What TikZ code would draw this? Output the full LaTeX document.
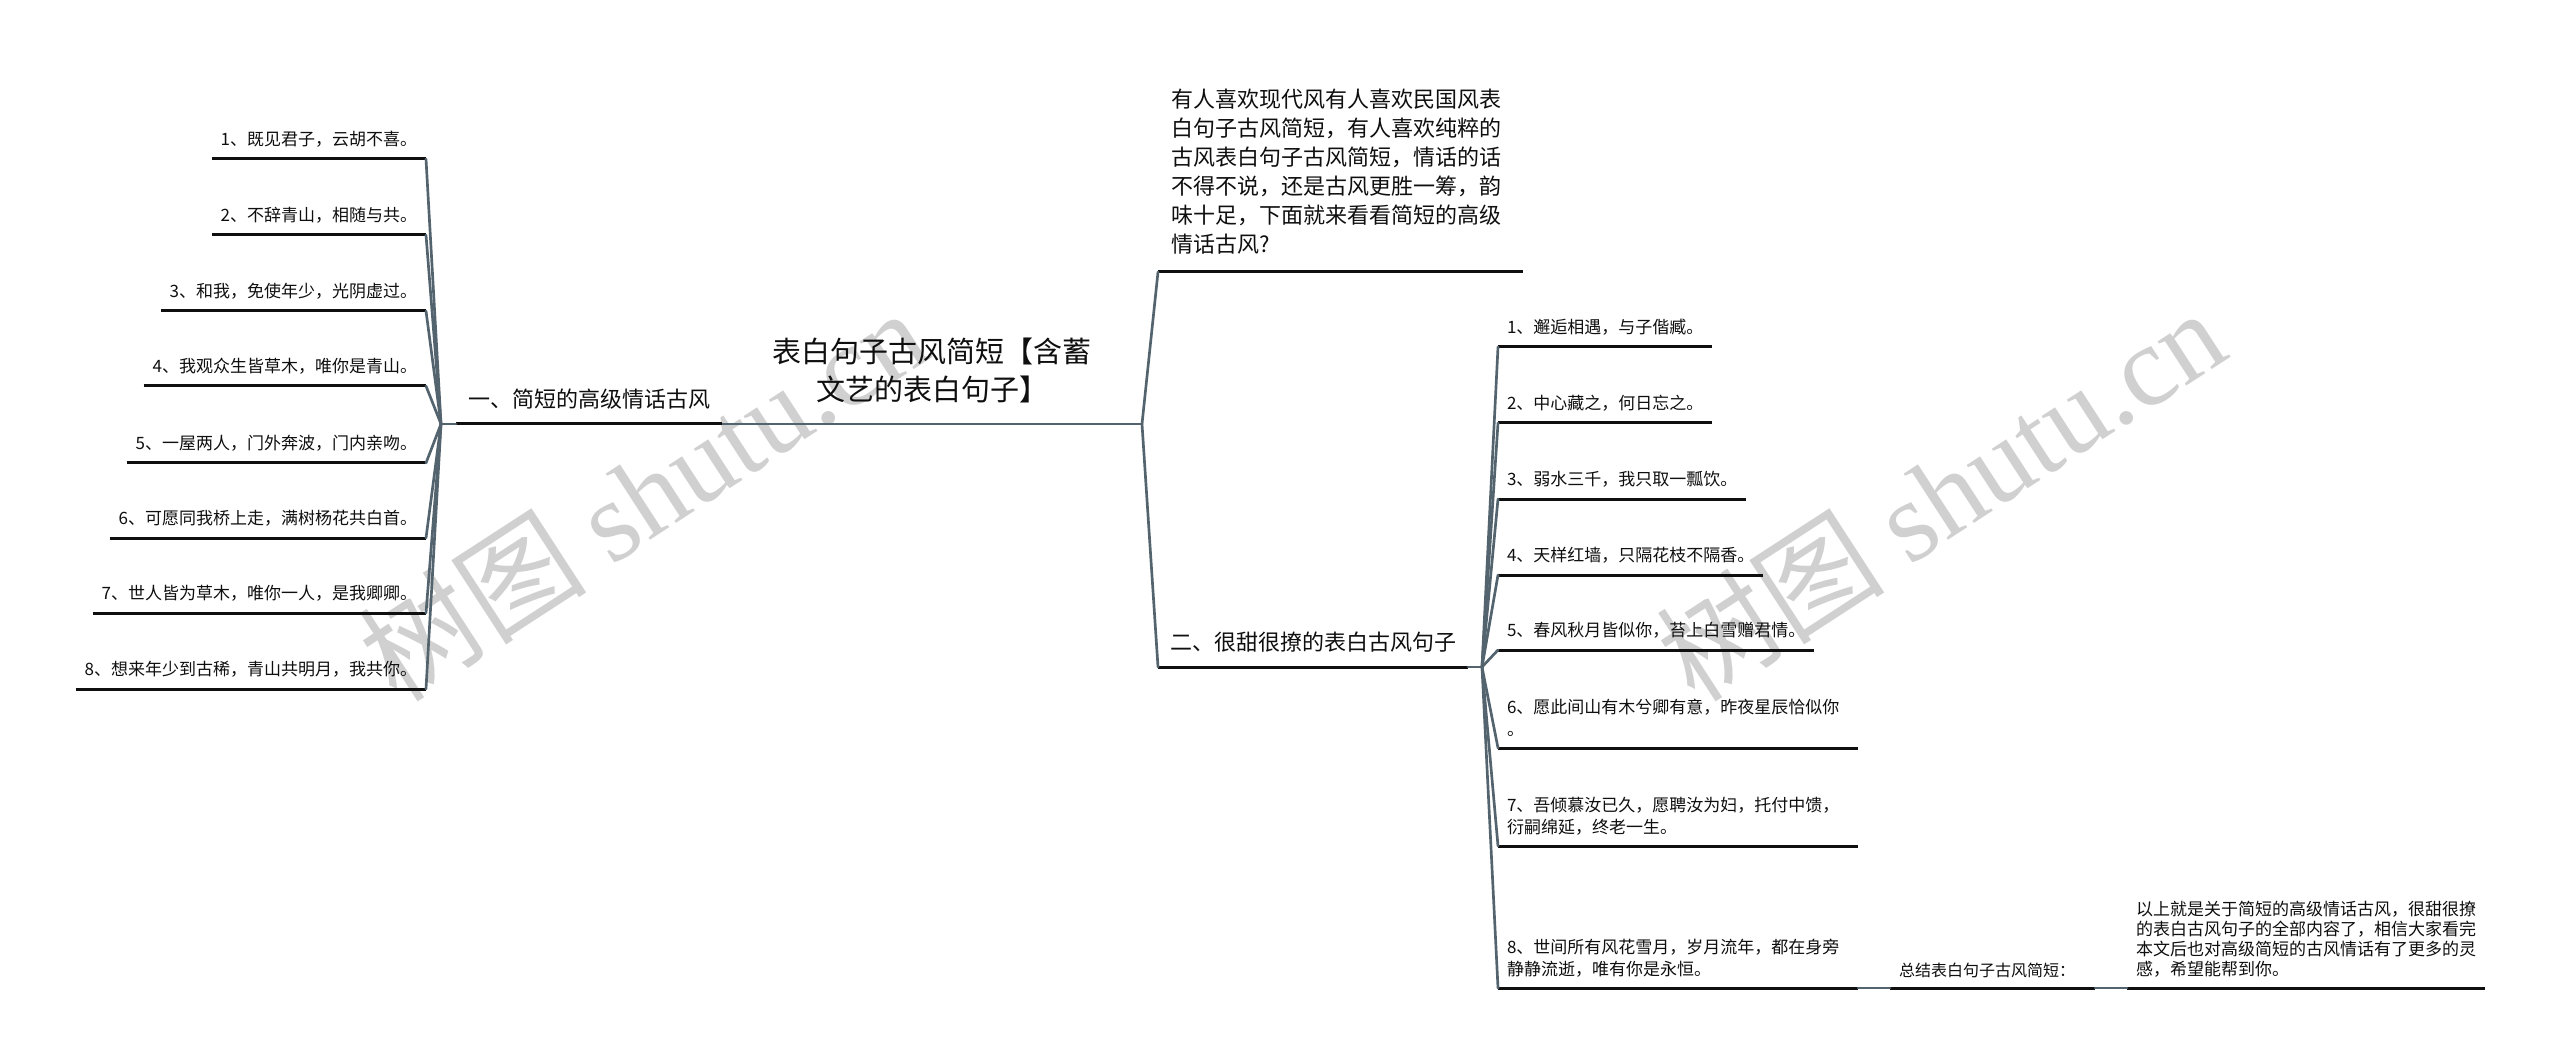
\documentclass[tikz,border=0pt]{standalone}
\usepackage{fontspec}
\setmainfont{Noto Sans CJK SC}
\newfontfamily\wmlatin{Liberation Serif}
\usetikzlibrary{positioning}
\definecolor{branchgray}{RGB}{84,100,110}
\definecolor{lineblack}{RGB}{15,15,15}
\definecolor{markgray}{RGB}{208,208,208}

\begin{document}
\begin{tikzpicture}[x=0.75pt, y=-0.75pt,
  every node/.style={inner sep=0pt, outer sep=0pt, text=lineblack},
  rootnode/.style={font=\fontsize{21.75pt}{28.5pt}\selectfont, align=center,
    minimum width=315pt, inner ysep=15.75pt},
  topicnode/.style={font=\fontsize{16.5pt}{21.75pt}\selectfont, inner xsep=9pt, inner ysep=11pt},
  intronode/.style={font=\fontsize{16.5pt}{21.75pt}\selectfont, align=left,
    text width=254.25pt, inner xsep=9.75pt, inner ysep=13.5pt},
  leaf/.style={font=\fontsize{12.75pt}{16.5pt}\selectfont, inner xsep=6.75pt, inner ysep=9pt},
  longleaf/.style={leaf, align=left, text width=256.5pt, inner ysep=8.25pt},
  sumlabel/.style={font=\fontsize{12pt}{16.5pt}\selectfont, align=left,
    text width=140.25pt, inner xsep=6.75pt, inner ysep=7.5pt},
  sumtext/.style={font=\fontsize{12.75pt}{15pt}\selectfont, align=left,
    text width=255pt, inner xsep=6.75pt, inner ysep=8.25pt},
  uline/.style={draw=lineblack, line width=2.25pt},
  branch/.style={draw=branchgray, line width=2pt, line cap=round},
  watermark/.style={font=\fontsize{86pt}{86pt}\selectfont, text=markgray, rotate=33}
]

  %% ── Canvas ──────────────────────────────────────────────────────
  \fill[white] (0,0) rectangle (2560,1062);
  \useasboundingbox (0,0) rectangle (2560,1062);

  %% ── Watermarks ──────────────────────────────────────────────────
  \node[watermark] (wmleft) at (642,494) {树图 {\wmlatin shutu.cn}};
  \node[watermark] (wmright) at (1940,494) {树图 {\wmlatin shutu.cn}};

  %% ── Root ────────────────────────────────────────────────────────
  \node[rootnode, anchor=south west] (root) at (722,424)
    {表白句子古风简短【含蓄\\文艺的表白句子】};
  \draw[branch] (root.south west) -- (root.south east);

  %% ── Left branch ─────────────────────────────────────────────────
  \node[topicnode, anchor=south east] (t1) at (root.south west) {一、简短的高级情话古风};
  \coordinate (t1hub) at ([xshift=-11.25pt]t1.south west);
  \draw[uline] (t1.south west) -- (t1.south east);
  \draw[branch] (t1hub) -- (t1.south west);

  \foreach \i/\y/\txt in {%
    1/159/1、既见君子，云胡不喜。,
    2/235/2、不辞青山，相随与共。,
    3/311/3、和我，免使年少，光阴虚过。,
    4/386/4、我观众生皆草木，唯你是青山。,
    5/463/5、一屋两人，门外奔波，门内亲吻。,
    6/538/6、可愿同我桥上走，满树杨花共白首。,
    7/613/7、世人皆为草木，唯你一人，是我卿卿。,
    8/689/8、想来年少到古稀，青山共明月，我共你。%
  }{
    \node[leaf, anchor=south east] (L\i) at (426,\y) {\txt};
    \draw[uline] (L\i.south west) -- (L\i.south east);
    \draw[branch] (t1hub) -- (L\i.south east);
  }

  %% ── Right branch: intro ─────────────────────────────────────────
  \node[intronode, anchor=south west] (intro) at (1158,272)
    {有人喜欢现代风有人喜欢民国风表\\白句子古风简短，有人喜欢纯粹的\\古风表白句子古风简短，情话的话\\不得不说，还是古风更胜一筹，韵\\味十足，下面就来看看简短的高级\\情话古风?};
  \draw[uline] (intro.south west) -- (intro.south east);
  \draw[branch] (root.south east) -- (intro.south west);

  %% ── Right branch: sentences ─────────────────────────────────────
  \node[topicnode, anchor=south west] (t2) at (1158,667) {二、很甜很撩的表白古风句子};
  \coordinate (t2hub) at ([xshift=10.5pt]t2.south east);
  \draw[uline] (t2.south west) -- (t2.south east);
  \draw[branch] (t2.south east) -- (t2hub);
  \draw[branch] (root.south east) -- (t2.south west);

  \foreach \i/\y/\txt in {%
    1/347/1、邂逅相遇，与子偕臧。,
    2/423/2、中心藏之，何日忘之。,
    3/499/3、弱水三千，我只取一瓢饮。,
    4/575/4、天样红墙，只隔花枝不隔香。,
    5/650/5、春风秋月皆似你，苔上白雪赠君情。%
  }{
    \node[leaf, anchor=south west] (R\i) at (1498,\y) {\txt};
  }
  \node[longleaf, anchor=south west] (R6) at (1498,748)
    {6、愿此间山有木兮卿有意，昨夜星辰恰似你\\。};
  \node[longleaf, anchor=south west] (R7) at (1498,846)
    {7、吾倾慕汝已久，愿聘汝为妇，托付中馈，\\衍嗣绵延，终老一生。};
  \node[longleaf, anchor=south west] (R8) at (1498,988)
    {8、世间所有风花雪月，岁月流年，都在身旁\\静静流逝，唯有你是永恒。};
  \foreach \i in {1,...,8}{
    \draw[uline] (R\i.south west) -- (R\i.south east);
    \draw[branch] (t2hub) -- (R\i.south west);
  }

  %% ── Summary ─────────────────────────────────────────────────────
  \node[sumlabel, anchor=south west] (sumhead) at ([xshift=24pt]R8.south east)
    {总结表白句子古风简短：};
  \node[sumtext, anchor=south west] (sumbody) at ([xshift=24pt]sumhead.south east)
    {以上就是关于简短的高级情话古风，很甜很撩\\的表白古风句子的全部内容了，相信大家看完\\本文后也对高级简短的古风情话有了更多的灵\\感，希望能帮到你。};
  \draw[uline] (sumhead.south west) -- (sumhead.south east);
  \draw[uline] (sumbody.south west) -- (sumbody.south east);
  \draw[branch] (R8.south east) -- (sumhead.south west);
  \draw[branch] (sumhead.south east) -- (sumbody.south west);

\end{tikzpicture}
\end{document}
